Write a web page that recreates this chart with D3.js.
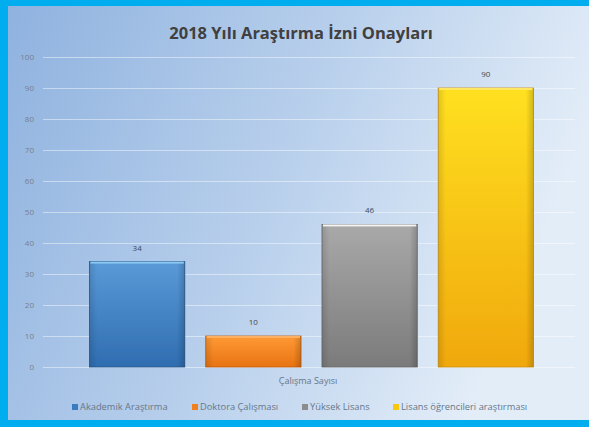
<!DOCTYPE html>
<html>
<head>
<meta charset="utf-8">
<script src="https://cdn.jsdelivr.net/npm/d3@7"></script>
<style>
body{margin:0;padding:0;background:#fff}
svg{display:block;font-family:"Open Sans",sans-serif}
</style>
</head>
<body>
<div id="chart"></div>
<script>
var W = 589, H = 427

var title = "2018 Yılı Araştırma İzni Onayları"
var category = "Çalışma Sayısı"
var series = ["Akademik Araştırma","Doktora Çalışması","Yüksek Lisans","Lisans öğrencileri araştırması"]
var values = [34,10,46,90]
var yTicks = [0,10,20,30,40,50,60,70,80,90,100]
var colors = [
	{top:"#5a9ad8",bot:"#2f6db0",edge:"#8cc8f0",mark:"#3a7cc2",line:"#25588f"},
	{top:"#ff9a35",bot:"#e87312",edge:"#ffb060",mark:"#f07f1d",line:"#c05e10"},
	{top:"#a9a9a9",bot:"#7b7b7b",edge:"#f4f4f4",mark:"#8c8c8c",line:"#6a6a6a"},
	{top:"#ffe020",bot:"#f0a80c",edge:"#ffe860",mark:"#f8c80e",line:"#d09010"}
]
var legendX = [72,192,302,393]

var svg = d3.select("#chart").append("svg").attr("width",W).attr("height",H)
var defs = svg.append("defs")

var bg = defs.append("linearGradient").attr("id","bg").attr("x1","0").attr("y1","0").attr("x2","1").attr("y2","0.3")
bg.append("stop").attr("offset","0").attr("stop-color","#8fb2df")
bg.append("stop").attr("offset","0.55").attr("stop-color","#b9d0ec")
bg.append("stop").attr("offset","1").attr("stop-color","#e3edf8")

colors.forEach(function(c,i){
	var g = defs.append("linearGradient").attr("id","bar"+i).attr("x1","0").attr("y1","0").attr("x2","0").attr("y2","1")
	g.append("stop").attr("offset","0").attr("stop-color",c.top)
	g.append("stop").attr("offset","1").attr("stop-color",c.bot)
	var s = defs.append("linearGradient").attr("id","side"+i).attr("x1","0").attr("y1","0").attr("x2","1").attr("y2","0")
	s.append("stop").attr("offset","0").attr("stop-color","#000").attr("stop-opacity",0.12)
	s.append("stop").attr("offset","0.08").attr("stop-color","#000").attr("stop-opacity",0)
	s.append("stop").attr("offset","0.92").attr("stop-color","#000").attr("stop-opacity",0)
	s.append("stop").attr("offset","1").attr("stop-color","#000").attr("stop-opacity",0.18)
})

// frame
svg.append("rect").attr("width",W).attr("height",H).attr("fill","#00aeef")
svg.append("rect").attr("x",8).attr("y",6).attr("width",W-8).attr("height",H-13).attr("fill","url(#bg)")

svg.append("text").attr("x",301).attr("y",39).attr("text-anchor","middle")
	.style("font-size","16.5px").style("font-weight","bold").attr("fill","#404040").text(title)

var x = d3.scaleBand().domain(series).range([43,580]).paddingInner(0.18).paddingOuter(0.4)
var y = d3.scaleLinear().domain([0,100]).range([367,57])

var yAxis = svg.append("g").attr("transform","translate(43,0)")
	.call(d3.axisLeft(y).tickValues(yTicks).tickSize(-(575-43)).tickPadding(9))
yAxis.select(".domain").remove()
yAxis.selectAll(".tick line").attr("stroke","#ffffff").attr("stroke-opacity",0.45).attr("stroke-width",1.2)
yAxis.selectAll(".tick text").attr("fill","#76808c").style("font-size","8px").style("font-family","'Open Sans',sans-serif")

var bars = svg.append("g").selectAll("g").data(values).enter().append("g")
bars.append("rect")
	.attr("x",function(d,i){return x(series[i])})
	.attr("y",function(d){return y(d)})
	.attr("width",x.bandwidth())
	.attr("height",function(d){return y(0)-y(d)})
	.attr("fill",function(d,i){return "url(#bar"+i+")"})
	.attr("stroke",function(d,i){return colors[i].line}).attr("stroke-width",0.8)
bars.append("rect")
	.attr("x",function(d,i){return x(series[i])})
	.attr("y",function(d){return y(d)})
	.attr("width",x.bandwidth())
	.attr("height",function(d){return y(0)-y(d)})
	.attr("fill",function(d,i){return "url(#side"+i+")"})
bars.append("rect")
	.attr("x",function(d,i){return x(series[i])+1})
	.attr("y",function(d){return y(d)})
	.attr("width",x.bandwidth()-2)
	.attr("height",2)
	.attr("fill",function(d,i){return colors[i].edge})
bars.append("text")
	.attr("x",function(d,i){return x(series[i])+x.bandwidth()/2})
	.attr("y",function(d){return y(d)-11})
	.attr("text-anchor","middle")
	.style("font-size","8px").attr("fill","#404a55")
	.text(function(d){return d})

svg.append("text").attr("x",308).attr("y",384).attr("text-anchor","middle")
	.style("font-size","9px").attr("fill","#66778a").text(category)

var leg = svg.append("g").selectAll("g").data(series).enter().append("g")
	.attr("transform",function(d,i){return "translate("+legendX[i]+",404)"})
leg.append("rect").attr("width",6).attr("height",6).attr("y",0)
	.attr("fill",function(d,i){return colors[i].mark})
leg.append("text").attr("x",8).attr("y",6).style("font-size","9.3px").attr("fill","#66778a").text(function(d){return d})
</script>
</body>
</html>
